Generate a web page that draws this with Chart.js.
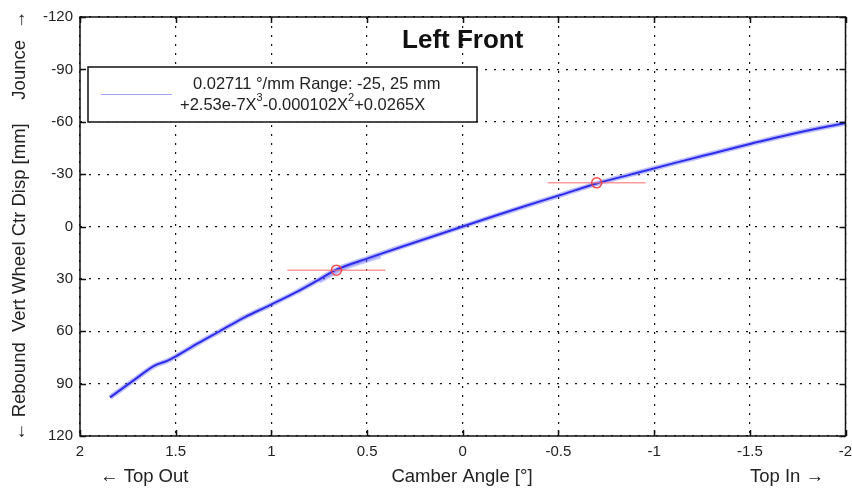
<!DOCTYPE html>
<html>
<head>
<meta charset="utf-8">
<script src="https://cdn.jsdelivr.net/npm/chart.js@4"></script>
<style>
  body { margin: 0; background: #fff; }
  canvas { display: block; }
</style>
</head>
<body>
<canvas id="camberChart" width="852" height="488"></canvas>
<script>
/* DATA */

// wheel travel sweep: vertical displacement [mm] vs camber [deg]
const dispMm = [97.9, 88.0, 79.6, 77.0, 74.4, 67.0, 60.0, 52.0, 45.2, 37.6, 30.0, 24.6, 18.0, 12.0, 6.0, 0,
  -6, -12, -18, -24.6, -30, -36.6, -42, -47.5, -53, -59.3];
const camberDeg = [1.843, 1.718, 1.608, 1.545, 1.499, 1.385, 1.270, 1.140, 1.010, 0.870, 0.745, 0.658, 0.49, 0.33, 0.165, 0,
  -0.165, -0.335, -0.51, -0.70, -0.885, -1.115, -1.31, -1.51, -1.72, -2.0];

// short second pass near +25 mm
const returnDisp = [31.5, 24.0, 17.2];
const returnCamber = [0.75, 0.62, 0.43];

// gradient check points at +/-25 mm with their camber spread
const markDisp = [25, -25];
const markCamber = [0.66, -0.70];
const markSpread = [0.256, 0.256];

const xTicks = [2, 1.5, 1, 0.5, 0, -0.5, -1, -1.5, -2];
const yTicks = [-120, -90, -60, -30, 0, 30, 60, 90, 120];

const titleText = "Left Front";
const legendLine1 = "0.02711 \u00b0/mm Range: -25, 25 mm";
const legendTerms = [["+2.53e-7X", "3"], ["-0.000102X", "2"], ["+0.0265X", ""]];

/* HELPERS */

const pts = (xs, ys) => xs.map((x, i) => ({ x, y: ys[i] }));

const curve = pts(camberDeg, dispMm);

const errorBars = markDisp.map((d, i) => ({
  data: [{ x: markCamber[i] + markSpread[i], y: d }, { x: markCamber[i] - markSpread[i], y: d }],
  showLine: true,
  borderColor: "rgba(250,120,120,0.75)",
  borderWidth: 1.5,
  pointRadius: 0,
  order: 1
}));

const FONT = "Liberation Sans, Arial, sans-serif";

/* PLUGIN: frame, inner ticks, title, legend, axis captions */

const decor = {
  id: "decor",
  afterDatasetsDraw(chart) {
    const { ctx } = chart;
    // legend box
    const bx = 88, by = 67, bw = 389, bh = 55;
    ctx.save();
    ctx.fillStyle = "#fff";
    ctx.fillRect(bx, by, bw, bh);
    ctx.strokeStyle = "#111";
    ctx.lineWidth = 1.5;
    ctx.strokeRect(bx, by, bw, bh);
    ctx.strokeStyle = "rgba(150,150,255,0.9)";
    ctx.lineWidth = 1.2;
    ctx.beginPath();
    ctx.moveTo(101, 94.5);
    ctx.lineTo(172, 94.5);
    ctx.stroke();

    ctx.fillStyle = "#222";
    ctx.font = "16.5px " + FONT;
    ctx.textBaseline = "middle";
    ctx.textAlign = "left";
    ctx.fillText(legendLine1, 193, 84);
    let x = 180;
    legendTerms.forEach(([t, sup]) => {
      ctx.font = "16.5px " + FONT;
      ctx.fillText(t, x, 105);
      x += ctx.measureText(t).width;
      if (sup) {
        ctx.font = "11px " + FONT;
        ctx.fillText(sup, x, 98);
        x += ctx.measureText(sup).width;
      }
    });
    ctx.restore();
  },
  afterDraw(chart) {
    const { ctx, chartArea: a, scales } = chart;
    ctx.save();
    // inward tick marks on all four sides
    ctx.strokeStyle = "#111";
    ctx.lineWidth = 1.5;
    ctx.beginPath();
    xTicks.forEach(v => {
      const px = Math.round(scales.x.getPixelForValue(v)) + 0.5;
      ctx.moveTo(px, a.bottom); ctx.lineTo(px, a.bottom - 6);
      ctx.moveTo(px, a.top); ctx.lineTo(px, a.top + 6);
    });
    yTicks.forEach(v => {
      const py = Math.round(scales.y.getPixelForValue(v)) + 0.5;
      ctx.moveTo(a.left, py); ctx.lineTo(a.left + 6, py);
      ctx.moveTo(a.right, py); ctx.lineTo(a.right - 6, py);
    });
    ctx.stroke();
    // frame
    ctx.strokeRect(a.left, a.top, a.right - a.left, a.bottom - a.top);

    // title inside the plot
    ctx.fillStyle = "#111";
    ctx.font = "bold 26px " + FONT;
    ctx.textAlign = "center";
    ctx.textBaseline = "middle";
    ctx.fillText(titleText, (a.left + a.right) / 2, 41);

    // x captions
    ctx.fillStyle = "#222";
    ctx.font = "18.5px " + FONT;
    ctx.fillText("Camber Angle [\u00b0]", 462, 477);
    ctx.textAlign = "left";
    ctx.fillText("\u2190 Top Out", 100, 477);
    ctx.textAlign = "right";
    ctx.fillText("Top In \u2192", 824, 477);

    // y caption, rotated
    ctx.translate(20, 0);
    ctx.rotate(-Math.PI / 2);
    ctx.textAlign = "left";
    ctx.fillText("\u2190 Rebound  Vert Wheel Ctr Disp [mm]", -441, 0);
    ctx.textAlign = "right";
    ctx.fillText("Jounce", -40, 0);
    ctx.textAlign = "center";
    ctx.fillText("\u2192", -20, 0);
    ctx.restore();
  }
};

/* CHART */

new Chart(document.getElementById("camberChart"), {
  type: "scatter",
  data: {
    datasets: [
      {
        data: pts(markCamber, markDisp),
        pointRadius: 5,
        pointBorderWidth: 1.5,
        pointBorderColor: "rgba(240,60,60,0.9)",
        pointBackgroundColor: "rgba(0,0,0,0)",
        order: 0
      },
      ...errorBars,
      {
        data: curve,
        showLine: true,
        borderColor: "rgb(45,45,235)",
        borderWidth: 2,
        pointRadius: 0,
        cubicInterpolationMode: "monotone",
        order: 2
      },
      {
        data: curve,
        showLine: true,
        borderColor: "rgba(110,110,255,0.45)",
        borderWidth: 5,
        pointRadius: 0,
        cubicInterpolationMode: "monotone",
        order: 3
      },
      {
        data: pts(returnCamber, returnDisp),
        showLine: true,
        borderColor: "rgba(110,110,255,0.4)",
        borderWidth: 4,
        pointRadius: 0,
        cubicInterpolationMode: "monotone",
        order: 3
      }
    ]
  },
  options: {
    responsive: false,
    animation: false,
    layout: { padding: { top: 17, right: 0, left: 0, bottom: 0 } },
    plugins: { legend: { display: false }, tooltip: { enabled: false } },
    scales: {
      x: {
        type: "linear",
        min: -2,
        max: 2,
        reverse: true,
        afterBuildTicks: s => { s.ticks = xTicks.map(value => ({ value })); },
        afterFit: s => { s.height = 52; s.paddingLeft = 0; s.paddingRight = 6; },
        ticks: { color: "#222", font: { size: 15, family: FONT }, padding: 7, maxRotation: 0,
          callback: v => String(v) },
        grid: { color: "#111", lineWidth: 1.2, drawTicks: false },
        border: { display: false, dash: [2, 7] }
      },
      y: {
        type: "linear",
        min: -120,
        max: 120,
        reverse: true,
        afterBuildTicks: s => { s.ticks = yTicks.map(value => ({ value })); },
        afterFit: s => { s.width = 80; },
        ticks: { color: "#222", font: { size: 15, family: FONT }, padding: 7,
          callback: v => String(v) },
        grid: { color: "#111", lineWidth: 1.2, drawTicks: false },
        border: { display: false, dash: [2, 7] }
      }
    }
  },
  plugins: [decor]
});
</script>
</body>
</html>
